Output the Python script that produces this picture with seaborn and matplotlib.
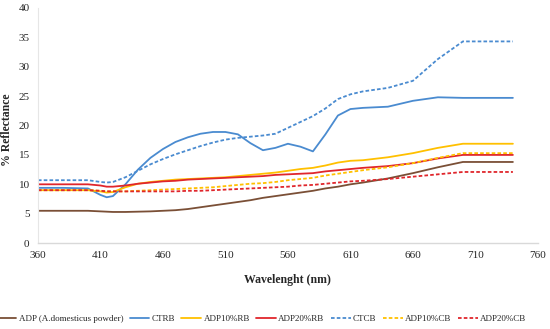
import matplotlib
matplotlib.use("Agg")
import matplotlib.pyplot as plt
import seaborn as sns
import pandas as pd

# wavelength grid (nm)
wavelength = [360, 380, 400, 410, 415, 420, 430, 440, 450, 460, 470, 480, 490, 500,
              510, 520, 530, 540, 550, 560, 570, 580, 590, 600, 610, 620, 640, 660,
              680, 700, 720, 740]

adp = [5.5, 5.5, 5.5, 5.4, 5.35, 5.3, 5.3, 5.35, 5.4, 5.5, 5.6, 5.8, 6.1, 6.4,
       6.7, 7.0, 7.3, 7.7, 8.0, 8.3, 8.6, 8.9, 9.3, 9.6, 10.0, 10.3, 11.0, 11.9,
       12.9, 13.8, 13.8, 13.8]
ctrb = [9.4, 9.4, 9.3, 8.2, 7.8, 8.0, 10.0, 12.5, 14.5, 16.0, 17.2, 18.0, 18.6, 18.9,
        18.9, 18.5, 17.0, 15.8, 16.2, 16.9, 16.4, 15.6, 18.5, 21.7, 22.8, 23.0, 23.2, 24.2,
        24.8, 24.7, 24.7, 24.7]
adp10_rb = [9.0, 9.0, 9.0, 8.8, 8.6, 8.7, 9.5, 10.1, 10.4, 10.6, 10.8, 10.9, 11.0, 11.1,
            11.2, 11.4, 11.6, 11.8, 12.0, 12.3, 12.6, 12.8, 13.2, 13.7, 14.0, 14.1, 14.6, 15.3,
            16.2, 16.9, 16.9, 16.9]
adp20_rb = [10.0, 10.0, 10.0, 9.8, 9.6, 9.6, 9.8, 10.1, 10.3, 10.5, 10.6, 10.8, 10.9, 11.0,
            11.1, 11.2, 11.3, 11.4, 11.6, 11.7, 11.8, 11.9, 12.2, 12.4, 12.6, 12.8, 13.1, 13.6,
            14.4, 15.0, 15.0, 15.0]
ctcb = [10.7, 10.7, 10.7, 10.4, 10.3, 10.4, 11.2, 12.3, 13.4, 14.3, 15.1, 15.8, 16.5, 17.1,
        17.6, 17.9, 18.1, 18.3, 18.6, 19.6, 20.6, 21.6, 22.9, 24.5, 25.3, 25.8, 26.4, 27.6,
        31.3, 34.3, 34.3, 34.3]
adp10_cb = [9.0, 9.0, 9.0, 8.9, 8.8, 8.8, 8.8, 8.9, 9.0, 9.1, 9.2, 9.3, 9.4, 9.5,
            9.7, 9.9, 10.1, 10.2, 10.4, 10.7, 10.9, 11.1, 11.5, 11.8, 12.1, 12.4, 12.9, 13.6,
            14.5, 15.3, 15.3, 15.3]
adp20_cb = [9.0, 9.0, 9.0, 8.9, 8.8, 8.8, 8.8, 8.8, 8.8, 8.8, 8.8, 8.9, 8.9, 9.0,
            9.1, 9.2, 9.3, 9.4, 9.5, 9.6, 9.8, 9.9, 10.1, 10.3, 10.5, 10.6, 10.9, 11.3,
            11.7, 12.1, 12.1, 12.1]

series_names = ["ADP (A.domesticus powder)", "CTRB", "ADP10%RB", "ADP20%RB",
                "CTCB", "ADP10%CB", "ADP20%CB"]
series_values = [adp, ctrb, adp10_rb, adp20_rb, ctcb, adp10_cb, adp20_cb]
colors = ["#7a4f36", "#4a8bd0", "#ffc000", "#e0262c", "#4a8bd0", "#ffc000", "#e0262c"]
dashed = [False, False, False, False, True, True, True]

sns.set_style("white")
plt.rcParams["font.family"] = ["Liberation Serif", "DejaVu Serif"]

fig = plt.figure(figsize=(5.5, 3.29), dpi=100)
ax = fig.add_axes([0.069, 0.261, 0.909, 0.715])

for name, vals, col, dsh in zip(series_names, series_values, colors, dashed):
    df = pd.DataFrame({"wl": wavelength, "val": vals})
    sns.lineplot(data=df, x="wl", y="val", ax=ax, color=col, lw=1.3,
                 label=name, linestyle=(0, (2, 1.2)) if dsh else "-")

ax.set_xlim(360, 760)
ax.set_ylim(0, 40)
ax.set_xticks(range(360, 761, 50))
ax.set_yticks(range(0, 41, 5))
ax.tick_params(labelsize=8, length=0, pad=6)
ax.set_xlabel("Wavelenght (nm)", fontsize=8.5, fontweight="bold", labelpad=10)
ax.set_ylabel("% Reflectance", fontsize=8.5, fontweight="bold")
ax.yaxis.set_label_coords(-0.05, 0.48)

for s in ["top", "right"]:
    ax.spines[s].set_visible(False)
ax.spines["left"].set_color("#e6e6e6")
ax.spines["bottom"].set_color("#d9d9d9")
ax.spines["bottom"].set_linewidth(1.0)

ax.legend(loc="center", bbox_to_anchor=(0.475, 0.03), bbox_transform=fig.transFigure,
          ncol=7, frameon=False, fontsize=6.5, handlelength=2.2, handletextpad=0.25,
          columnspacing=0.7, borderpad=0.1)

fig.savefig("out.png", dpi=100)
